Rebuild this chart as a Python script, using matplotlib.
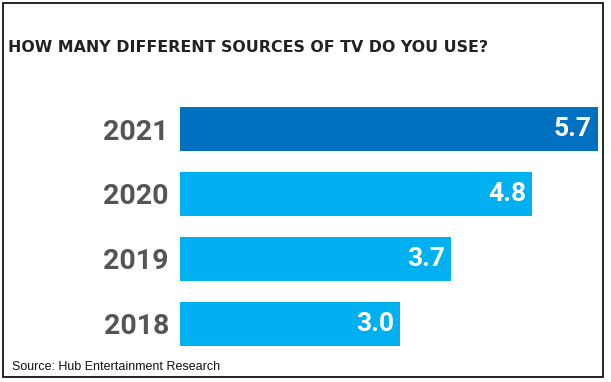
import matplotlib
matplotlib.use("Agg")
import matplotlib.pyplot as plt
from matplotlib.patches import Rectangle

years = ["2018", "2019", "2020", "2021"]
values = [3.0, 3.7, 4.8, 5.7]
colors = ["#00B0F0", "#00B0F0", "#00B0F0", "#0070C0"]
title = "HOW MANY DIFFERENT SOURCES OF TV DO YOU USE?"
source = "Source: Hub Entertainment Research"

W, H = 611, 382
fig = plt.figure(figsize=(W / 100, H / 100), dpi=100)
fig.patch.set_facecolor("white")

# axes placed in pixel coordinates
left_px, right_px = 180, 602
top_px, bottom_px = 96.6, 356
ax = fig.add_axes([left_px / W, 1 - bottom_px / H,
                   (right_px - left_px) / W, (bottom_px - top_px) / H])
ypos = list(range(len(years)))
ax.barh(ypos, values, height=0.68, color=colors, edgecolor="none")
ax.set_xlim(0, (right_px - left_px) / 73.3)
ax.set_ylim(-0.5, len(years) - 0.5)
for s in ax.spines.values():
    s.set_visible(False)
ax.set_xticks([])
ax.set_yticks(ypos)
ax.set_yticklabels(years, fontsize=20.5, fontweight="bold", color="#555555",
                   family="Roboto")
ax.tick_params(axis="y", length=0, pad=8)

for y, v in zip(ypos, values):
    ax.text(v - 0.08, y, f"{v:.1f}", ha="right", va="center", color="white",
            fontsize=19, fontweight="bold", family="Roboto")

fig.text(8 / W, 1 - 47 / H, title, ha="left", va="center", fontsize=11.4,
         fontweight="bold", color="#222222", family="DejaVu Sans")
fig.text(12 / W, 1 - 367 / H, source, ha="left", va="center", fontsize=9,
         color="#111111", family="Liberation Sans")

fig.patches.append(Rectangle((3 / W, 1 - 377 / H), 600 / W, 374 / H,
                             transform=fig.transFigure, fill=False,
                             edgecolor="black", linewidth=1.2))

fig.savefig("out.png", dpi=100)
